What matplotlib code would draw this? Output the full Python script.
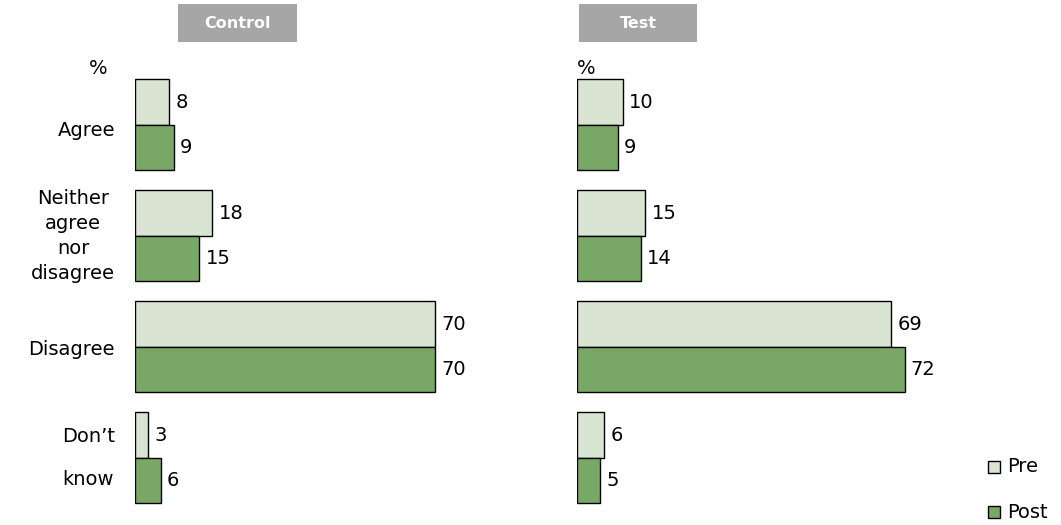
import matplotlib.pyplot as plt
from matplotlib.patches import Rectangle
from matplotlib.transforms import blended_transform_factory

categories = ["Agree", "Neither\nagree\nnor\ndisagree", "Disagree", "Don\u2019t\nknow"]
control_pre = [8, 18, 70, 3]
control_post = [9, 15, 70, 6]
test_pre = [10, 15, 69, 6]
test_post = [9, 14, 72, 5]
panel_titles = ["Control", "Test"]
series_names = ["Pre", "Post"]

PRE_COLOR = "#d9e4d3"
POST_COLOR = "#79a866"
HEADER_GRAY = "#a6a6a6"
FS = 14

plt.rcParams["font.family"] = ["DejaVu Sans"]

W, H = 1061, 525
fig = plt.figure(figsize=(W / 100, H / 100), dpi=100)


def px_axes(x0, y0, x1, y1):
    # pixel box (top-left origin) -> figure axes
    return fig.add_axes([x0 / W, 1 - y1 / H, (x1 - x0) / W, (y1 - y0) / H])


bar_h = 0.41
ypos = list(range(len(categories)))
panels = [
    (px_axes(135, 65, 135 + 80 * 4.29, 515), control_pre, control_post),
    (px_axes(577, 65, 577 + 80 * 4.55, 515), test_pre, test_post),
]

for ax, pre, post in panels:
    ax.barh([y - bar_h / 2 for y in ypos], pre, height=bar_h,
            color=PRE_COLOR, edgecolor="black", linewidth=1.0)
    ax.barh([y + bar_h / 2 for y in ypos], post, height=bar_h,
            color=POST_COLOR, edgecolor="black", linewidth=1.0)
    for y, v in zip(ypos, pre):
        ax.annotate(str(v), (v, y - bar_h / 2), xytext=(4.5, 0), textcoords="offset points",
                    va="center", ha="left", fontsize=FS)
    for y, v in zip(ypos, post):
        ax.annotate(str(v), (v, y + bar_h / 2), xytext=(4.5, 0), textcoords="offset points",
                    va="center", ha="left", fontsize=FS)
    ax.set_xlim(0, 80)
    ax.set_ylim(3.514, -0.54)
    ax.axis("off")

# category labels: right-aligned block at x=115px, lines centred
label_tr = blended_transform_factory(fig.transFigure, panels[0][0].transData)
line_gaps = [1.2, 1.4, 1.2, 2.6]
label_shift = [0.05, 0.0, 0.02, 0.0]
for y, cat, ls, dy in zip(ypos, categories, line_gaps, label_shift):
    fig.text(115 / W, y + dy, cat, ha="right", va="center", fontsize=FS,
             multialignment="center", linespacing=ls, transform=label_tr)

# % markers
fig.text(98 / W, 1 - 68 / H, "%", ha="center", va="center", fontsize=FS)
fig.text(586 / W, 1 - 68 / H, "%", ha="center", va="center", fontsize=FS)

# grey header boxes
for (x0, x1), title in zip([(178, 297), (579, 697)], panel_titles):
    fig.patches.append(Rectangle((x0 / W, 1 - 42 / H), (x1 - x0) / W, 38 / H,
                                 transform=fig.transFigure, facecolor=HEADER_GRAY,
                                 edgecolor="none"))
    fig.text((x0 + x1) / 2 / W, 1 - 24 / H, title, ha="center", va="center",
             color="white", fontsize=11.5, fontweight="bold")

# legend
for (name, color), yp in zip(zip(series_names, [PRE_COLOR, POST_COLOR]), [467, 512]):
    fig.patches.append(Rectangle((988 / W, 1 - (yp + 6) / H), 12 / W, 12 / H,
                                 transform=fig.transFigure, facecolor=color,
                                 edgecolor="black", linewidth=1.0))
    fig.text(1007 / W, 1 - yp / H, name, ha="left", va="center", fontsize=FS)

fig.savefig("out.png", dpi=100)
